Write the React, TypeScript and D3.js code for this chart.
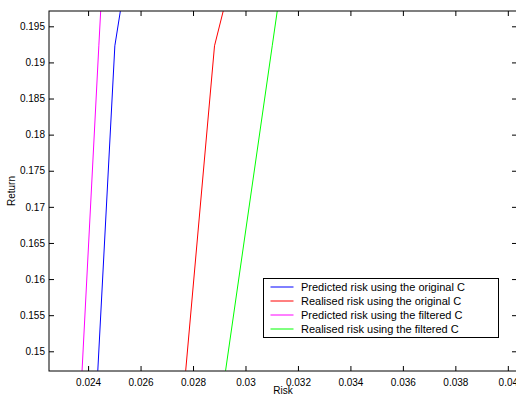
import React, { useEffect, useRef } from 'react';
import * as d3 from 'd3';

// returns shared by every curve (bottom, kink, top of the visible window)
const returns = [0.1473, 0.1923, 0.1971];

const predictedOriginal = [0.02437, 0.02502, 0.02523];
const realisedOriginal = [0.02772, 0.02882, 0.02915];
const predictedFiltered = [0.02377, 0.02441, 0.02448];
const realisedFiltered = [0.02924, 0.03102, 0.03121];

const seriesNames = [
  'Predicted risk using the original C',
  'Realised risk using the original C',
  'Predicted risk using the filtered C',
  'Realised risk using the filtered C',
];
const seriesColors = ['#0000ff', '#ff0000', '#ff00ff', '#00ff00'];

const xTicks = [0.024, 0.026, 0.028, 0.03, 0.032, 0.034, 0.036, 0.038, 0.04];
const yTicks = [0.15, 0.155, 0.16, 0.165, 0.17, 0.175, 0.18, 0.185, 0.19, 0.195];

const App = () => {
  const svgRef = useRef<SVGSVGElement>(null);

  useEffect(() => {
    const svg = d3.select(svgRef.current);
    svg.selectAll('*').remove();

    const left = 49, right = 517, top = 11, bottom = 371;
    const font = '"Liberation Sans", Arial, Helvetica, sans-serif';

    const x = d3.scaleLinear().domain([0.02251, 0.04035]).range([left, right]);
    const y = d3.scaleLinear().domain([0.14727, 0.19712]).range([bottom, top]);

    svg.append('rect')
      .attr('width', 516).attr('height', 399).attr('fill', '#fff');

    const clip = svg.append('defs').append('clipPath').attr('id', 'plotClip');
    clip.append('rect')
      .attr('x', left).attr('y', top)
      .attr('width', right - left).attr('height', bottom - top);

    // curves
    const allSeries = [predictedOriginal, realisedOriginal, predictedFiltered, realisedFiltered];
    const line = d3.line<[number, number]>()
      .x(d => x(d[0]))
      .y(d => y(d[1]));

    const curves = svg.append('g').attr('clip-path', 'url(#plotClip)');
    allSeries.forEach((s, i) => {
      curves.append('path')
        .datum(s.map((v, j) => [v, returns[j]] as [number, number]))
        .attr('d', line)
        .attr('fill', 'none')
        .attr('stroke', seriesColors[i])
        .attr('stroke-width', 1);
    });

    // axes (MATLAB style, ticks inward, mirrored)
    const fmt = (d: number) => String(+d.toFixed(4));

    svg.append('g')
      .attr('transform', `translate(0,${bottom})`)
      .call(d3.axisBottom(x).tickValues(xTicks).tickSizeInner(-5).tickSizeOuter(0).tickPadding(8).tickFormat(d => fmt(+d)))
      .call(g => g.select('.domain').remove())
      .selectAll('text')
      .style('font-family', font)
      .style('font-size', '10px')
      .attr('fill', '#000');

    svg.append('g')
      .attr('transform', `translate(${left},0)`)
      .call(d3.axisLeft(y).tickValues(yTicks).tickSizeInner(-5).tickSizeOuter(0).tickPadding(4).tickFormat(d => fmt(+d)))
      .call(g => g.select('.domain').remove())
      .selectAll('text')
      .style('font-family', font)
      .style('font-size', '10px')
      .attr('fill', '#000');

    svg.append('g')
      .attr('transform', `translate(0,${top})`)
      .call(d3.axisTop(x).tickValues(xTicks).tickSizeInner(-5).tickSizeOuter(0).tickFormat(() => ''))
      .call(g => g.select('.domain').remove());

    svg.append('g')
      .attr('transform', `translate(${right},0)`)
      .call(d3.axisRight(y).tickValues(yTicks).tickSizeInner(-5).tickSizeOuter(0).tickFormat(() => ''))
      .call(g => g.select('.domain').remove());

    svg.append('rect')
      .attr('x', left).attr('y', top)
      .attr('width', right - left).attr('height', bottom - top)
      .attr('fill', 'none')
      .attr('stroke', '#000')
      .attr('stroke-width', 1);

    // axis labels
    svg.append('text')
      .attr('x', (left + right) / 2)
      .attr('y', 394)
      .attr('text-anchor', 'middle')
      .style('font-family', font)
      .style('font-size', '10px')
      .text('Risk');

    svg.append('text')
      .attr('transform', `translate(15,${(top + bottom) / 2}) rotate(-90)`)
      .attr('text-anchor', 'middle')
      .style('font-family', font)
      .style('font-size', '10px')
      .text('Return');

    // legend
    const legend = svg.append('g').attr('transform', 'translate(263.5,278.5)');
    legend.append('rect')
      .attr('width', 235).attr('height', 59)
      .attr('fill', '#fff')
      .attr('stroke', '#000')
      .attr('stroke-width', 1);

    seriesNames.forEach((name, i) => {
      const ry = 8.5 + i * 14;
      legend.append('line')
        .attr('x1', 7).attr('x2', 30)
        .attr('y1', ry).attr('y2', ry)
        .attr('stroke', seriesColors[i])
        .attr('stroke-width', 1);
      legend.append('text')
        .attr('x', 37.5)
        .attr('y', ry + 4)
        .style('font-family', font)
        .style('font-size', '11px')
        .text(name);
    });
  }, []);

  return (
    <svg
      ref={svgRef}
      width={516}
      height={399}
      style={{ position: 'fixed', left: 0, top: 0, display: 'block' }}
    />
  );
};

export default App;
